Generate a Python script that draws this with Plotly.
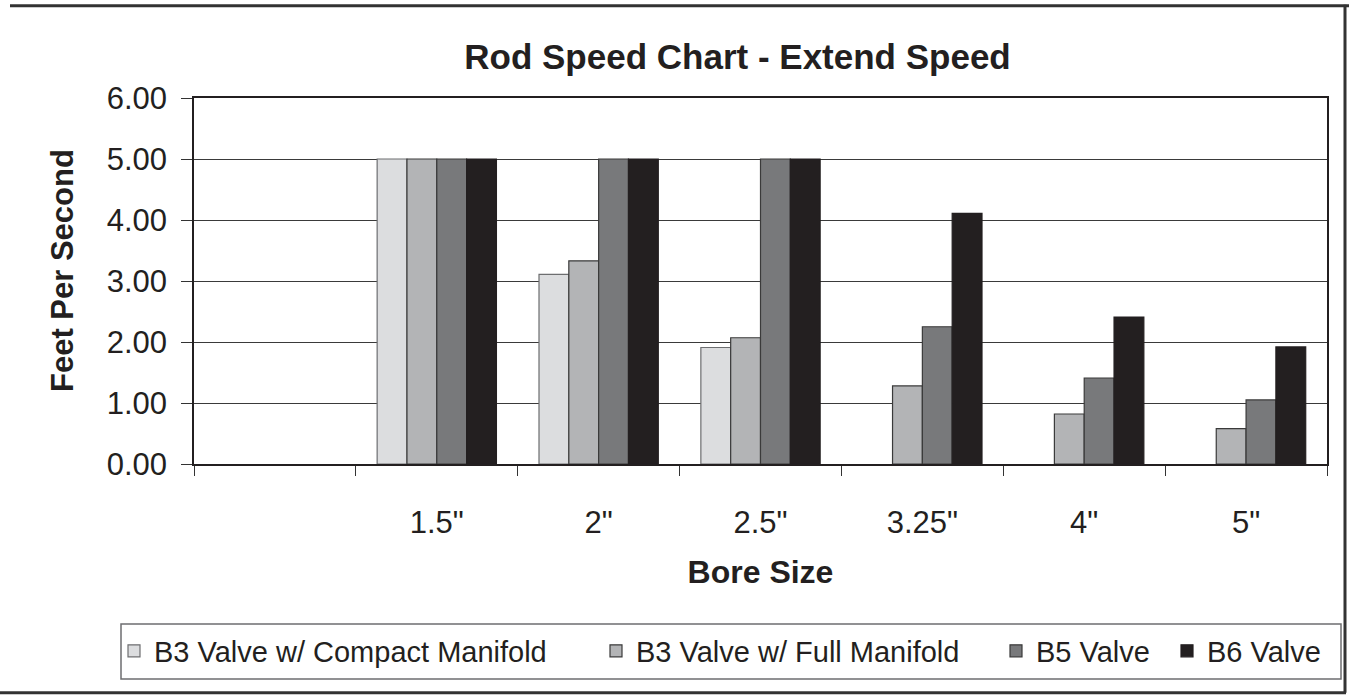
import plotly.graph_objects as go

categories = [" ", '1.5"', '2"', '2.5"', '3.25"', '4"', '5"']
series_names = ["B3 Valve w/ Compact Manifold", "B3 Valve w/ Full Manifold", "B5 Valve", "B6 Valve"]
b3_compact = [None, 5.00, 3.11, 1.91, None, None, None]
b3_full = [None, 5.00, 3.33, 2.07, 1.28, 0.82, 0.58]
b5 = [None, 5.00, 5.00, 5.00, 2.25, 1.41, 1.05]
b6 = [None, 5.00, 5.00, 5.00, 4.11, 2.41, 1.92]
y_ticks = [0, 1, 2, 3, 4, 5, 6]

fill_colors = ["#dcdddf", "#b3b4b6", "#78797b", "#231f20"]
line_colors = ["#6d6e70", "#3a3a3a", "#3a3a3a", "#231f20"]

W, H = 1349, 696
L, R, T, B = 194, 1327, 97.5, 464.5


def px(x):
    return (x - L) / (R - L)


def py(y):
    return (B - y) / (B - T)


FONT = "Liberation Sans, Arial, sans-serif"
TXT = "#231f20"

fig = go.Figure()
all_series = [b3_compact, b3_full, b5, b6]
legend_ids = ["legend", "legend2", "legend3", "legend4"]
for name, vals, fc, lc, lg in zip(series_names, all_series, fill_colors, line_colors, legend_ids):
    fig.add_trace(go.Bar(
        x=categories, y=vals, name=name, showlegend=True,
        marker=dict(color=fc, line=dict(color=lc, width=1.2)),
        legend=lg,
    ))

legend_text_starts = [155, 637, 1037, 1208]
leg_y = 652
legend_common = dict(
    orientation="h", yanchor="middle", xanchor="left", visible=True,
    bgcolor="rgba(0,0,0,0)", borderwidth=0,
    font=dict(family=FONT, size=29, color=TXT),
)
layout_legends = {}
for lg, ts in zip(legend_ids, legend_text_starts):
    layout_legends[lg] = dict(x=px(ts - 41), y=py(leg_y), **legend_common)

shapes = [
    dict(type="rect", xref="paper", yref="paper", x0=px(121), x1=px(1341), y0=py(625), y1=py(680),
         line=dict(color="#6d6e70", width=1.5), fillcolor="rgba(0,0,0,0)", layer="below"),
    dict(type="line", xref="paper", yref="paper", x0=px(10), x1=px(1349), y0=py(5), y1=py(5),
         line=dict(color="#333333", width=3)),
    dict(type="line", xref="paper", yref="paper", x0=px(1345), x1=px(1345), y0=py(4), y1=py(694),
         line=dict(color="#333333", width=3)),
    dict(type="line", xref="paper", yref="paper", x0=px(0), x1=px(1346), y0=py(694), y1=py(694),
         line=dict(color="#333333", width=3)),
]

fig.update_layout(
    width=W, height=H, showlegend=True,
    margin=dict(l=L, r=W - R, t=T, b=H - B, pad=0),
    paper_bgcolor="white", plot_bgcolor="white",
    barmode="group", bargap=0.263, bargroupgap=0,
    font=dict(family=FONT, color=TXT),
    title=dict(text="<b>Rod Speed Chart - Extend Speed</b>", x=737.5 / W, xref="container",
               xanchor="center", y=1 - 57 / H, yanchor="middle",
               font=dict(family=FONT, size=35, color=TXT)),
    xaxis=dict(
        type="category", categoryorder="array", categoryarray=categories,
        tickson="boundaries", ticks="outside", ticklen=10, tickcolor="#333333", tickwidth=1,
        showline=True, linecolor="#231f20", linewidth=1.5, mirror=True,
        showgrid=False, tickfont=dict(family=FONT, size=31, color=TXT),
        ticklabelstandoff=30,
        title=dict(text="<b>Bore Size</b>", font=dict(family=FONT, size=32, color=TXT), standoff=22),
    ),
    yaxis=dict(
        range=[0, 6], tickvals=y_ticks, tickformat=".2f",
        ticks="outside", ticklen=11, tickcolor="#333333", tickwidth=1,
        showline=True, linecolor="#231f20", linewidth=1.5, mirror=True,
        showgrid=True, gridcolor="#3a3a3a", gridwidth=1, zeroline=False,
        tickfont=dict(family=FONT, size=31, color=TXT),
        ticklabelstandoff=8,
    ),
    annotations=[dict(text="<b>Feet Per Second</b>", textangle=-90, xref="paper", yref="paper",
                      x=px(62), y=py(271), xanchor="center", yanchor="middle", showarrow=False,
                      font=dict(family=FONT, size=31, color=TXT))],
    shapes=shapes,
    **layout_legends,
)

fig.write_html(
    "out.html",
    config={"displayModeBar": False},
    post_script="document.body.style.margin='0';document.body.style.overflow='hidden';",
)
